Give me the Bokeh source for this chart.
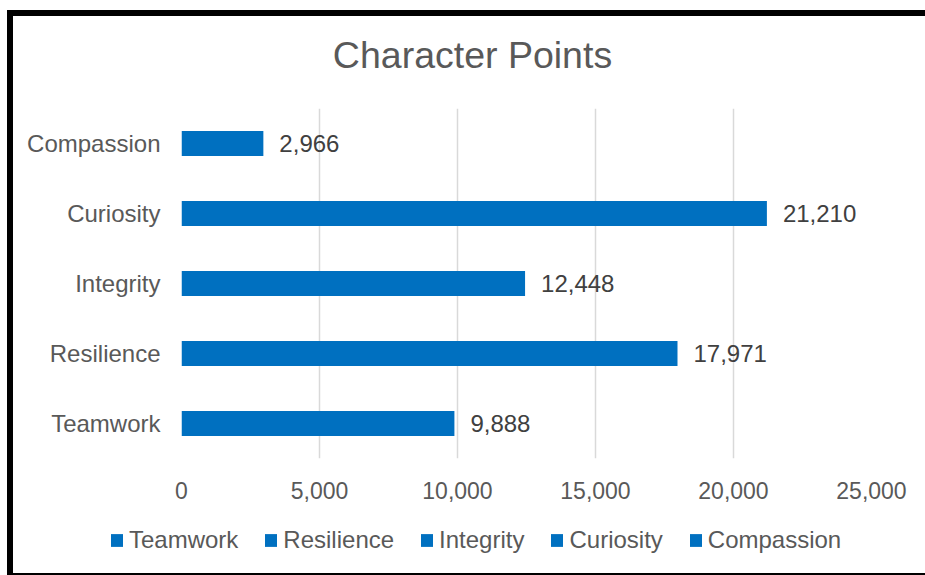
from bokeh.plotting import figure
from bokeh.layouts import column
from bokeh.models import (FactorRange, Range1d, NumeralTickFormatter, Legend, LegendItem,
                          ColumnDataSource, Label)
from bokeh.core.properties import value
from bokeh.embed import file_html
from bokeh.resources import INLINE

categories = ["Teamwork", "Resilience", "Integrity", "Curiosity", "Compassion"]
points = [9888, 17971, 12448, 21210, 2966]
labels = ["9,888", "17,971", "12,448", "21,210", "2,966"]
x_ticks = [0, 5000, 10000, 15000, 20000, 25000]
title_text = "Character Points"

FONT = "Liberation Sans"
BLUE = "#0070C0"
GREY = "#595959"
W = 918


def strip(height, styles, top=0):
    f = figure(width=W, height=height, output_backend="svg", toolbar_location=None,
               x_axis_type=None, y_axis_type=None,
               x_range=Range1d(0, 1), y_range=Range1d(0, 1),
               min_border_left=0, min_border_right=0, min_border_top=top, min_border_bottom=0)
    f.frame_align = False
    f.styles = styles
    f.outline_line_color = None
    f.border_fill_color = "white"
    f.background_fill_color = "white"
    return f


# title strip
tf = strip(90, {"border-top": "6px solid black", "border-left": "6px solid black",
                "margin-top": "10px", "margin-left": "7px"})
tf.add_layout(Label(x=459, y=52, x_units="screen", y_units="screen", text=title_text,
                    text_font=FONT, text_font_size="37.5px", text_color=GREY,
                    text_align="center", text_baseline="middle"))

# main chart
src = ColumnDataSource(dict(cat=categories, val=points, lab=labels))
p = figure(width=W, height=415, output_backend="svg", toolbar_location=None,
           y_range=FactorRange(*categories, range_padding=0), x_range=Range1d(0, 25000),
           min_border_left=168, min_border_right=60, min_border_top=8, min_border_bottom=57)
p.frame_align = False
p.styles = {"border-left": "6px solid black", "margin-left": "7px",
            "position": "relative", "z-index": "2"}
p.outline_line_color = None
p.border_fill_color = "white"

r = p.hbar(y="cat", right="val", left=0, height=0.36, source=src, color=BLUE, line_color=None)
p.text(x="val", y="cat", text="lab", source=src, x_offset=16, text_baseline="middle",
       text_align="left", text_font=value(FONT), text_font_size="24px", text_color="#404040")

p.xaxis.ticker = x_ticks
p.xaxis.formatter = NumeralTickFormatter(format="0,0")
for ax in (p.xaxis[0], p.yaxis[0]):
    ax.axis_line_color = None
    ax.major_tick_line_color = None
    ax.minor_tick_line_color = None
    ax.major_label_text_font = FONT
    ax.major_label_text_color = GREY
p.xaxis.major_label_text_font_size = "23px"
p.yaxis.major_label_text_font_size = "24px"
p.xaxis.major_label_standoff = 17
p.yaxis.major_label_standoff = 15

p.ygrid.grid_line_color = None
p.xgrid.grid_line_color = "#d9d9d9"
p.xgrid.grid_line_width = 1.5

# legend strip
lg = strip(63, {"border-left": "6px solid black", "border-bottom": "2px solid black",
                "margin-left": "7px", "margin-top": "-3px", "position": "relative",
                "z-index": "1"}, top=2)
dummy = lg.hbar(y=[0.5], left=[0], right=[0], height=0, color=BLUE, line_color=None)
legend = Legend(items=[LegendItem(label=c, renderers=[dummy]) for c in categories],
                orientation="horizontal", location=(96, 21),
                background_fill_alpha=0, border_line_alpha=0, padding=0, margin=0,
                spacing=25, label_standoff=5, glyph_width=15, glyph_height=16,
                label_text_font=FONT, label_text_font_size="24px", label_text_color=GREY)
lg.add_layout(legend, "center")

layout = column(tf, p, lg, spacing=0)
open("out.html", "w").write(file_html(layout, INLINE))
